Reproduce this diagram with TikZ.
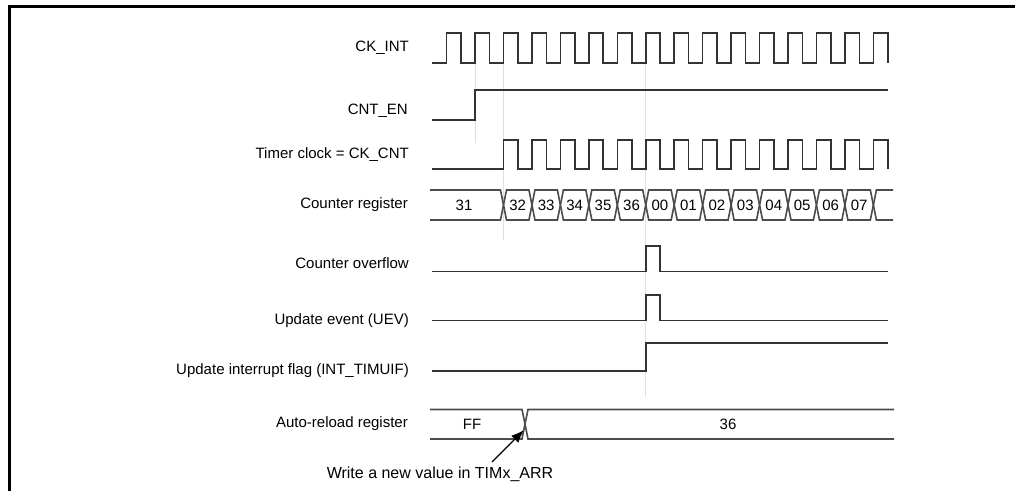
\documentclass[tikz,border=0pt]{standalone}
\usepackage{fontspec}
\setmainfont{Liberation Sans}
\usetikzlibrary{arrows.meta, positioning, calc}
\tikzset{
    lbl/.style = {anchor=east, inner sep=0pt, font=\fontsize{15}{17}\selectfont},
    val/.style = {inner sep=0pt, font=\fontsize{15}{17}\selectfont},
    sig/.style = {draw=black!80, line width=1.6pt, line join=miter},
    bus/.style = {draw=black!70, line width=1.6pt},
    guide/.style = {draw=black!12, line width=0.8pt},
    frame/.style = {draw=black, line width=3pt}
}

\begin{document}
\begin{tikzpicture}[x=1pt, y=-1pt, >=Latex]
    \useasboundingbox (0,0) rectangle (1015,491);
    \draw [frame] (9,491) -- (9,6) -- (1015,6);

    % Guias
    \draw [guide] (475,63) -- (475,143);
    \draw [guide] (503.5,63) -- (503.5,240);
    \draw [guide] (645.8,63) -- (645.8,397);

    % Etiquetas
    \node [lbl] (ckint) at (409,48) {CK\_INT};
    \node [lbl] (cnten) at (408,111) {CNT\_EN};
    \node [lbl] (ckcnt) at (409,155) {Timer clock = CK\_CNT};
    \node [lbl] (cntreg) at (408,205) {Counter register};
    \node [lbl] (ovf) at (409,263) {Counter overflow};
    \node [lbl] (uev) at (409,321) {Update event (UEV)};
    \node [lbl] (uif) at (409,371) {Update interrupt flag (INT\_TIMUIF)};
    \node [lbl] (arr) at (408,424) {Auto-reload register};

    % Relojes
    \draw [sig] (432,63) foreach \k in {0,...,15} {
        -- ({446.6+28.45*\k},63) -- ({446.6+28.45*\k},33)
        -- ({461+28.45*\k},33) -- ({461+28.45*\k},63)};
    \draw [sig] (432,120) -- (475,120) -- (475,90) -- (888,90);
    \draw [sig] (432,169) foreach \k in {2,...,15} {
        -- ({446.6+28.45*\k},169) -- ({446.6+28.45*\k},140)
        -- ({461+28.45*\k},140) -- ({461+28.45*\k},169)};

    % Contador
    \draw [bus] (430,190) -- (500.5,190) -- (503.5,205) -- (500.5,220) -- (430,220);
    \node [val] (cnt1) at (464,205) {31};
    \foreach \v [count=\i from 2] in {32,33,34,35,36,00,01,02,03,04,05,06,07} {
        \pgfmathsetmacro\a{446.6+28.45*\i}
        \pgfmathsetmacro\b{\a+28.45}
        \draw [bus] (\a,205) -- (\a+3,190) -- (\b-3,190) -- (\b,205)
            -- (\b-3,220) -- (\a+3,220) -- cycle;
        \node [val] (cnt\i) at ({(\a+\b)/2},205) {\v};
    }
    \draw [bus] (893,190) -- (876.4,190) -- (873.4,205) -- (876.4,220) -- (893,220);

    % Pulsos
    \draw [sig] (432,271.5) -- (645.8,271.5) -- (645.8,246) -- (660,246) -- (660,271.5) -- (888,271.5);
    \draw [sig] (432,320.5) -- (645.8,320.5) -- (645.8,295) -- (660,295) -- (660,320.5) -- (888,320.5);
    \draw [sig] (432,371) -- (645.8,371) -- (645.8,343) -- (888,343);

    % Auto-reload
    \draw [bus] (430,409.5) -- (522,409.5) -- (525,424) -- (522,439) -- (430,439);
    \draw [bus] (894,409.5) -- (528,409.5) -- (525,424) -- (528,439) -- (894,439);
    \node [val] (ff) at (472,424) {FF};
    \node [val] (v36) at (728,424) {36};

    % Flecha
    \node [val, font=\fontsize{16}{18}\selectfont] (wr) at (440,474) {Write a new value in TIMx\_ARR};
    \coordinate (wtail) at (492,462);
    \coordinate (wtip) at (524,430);
    \draw [-{Latex[length=13pt,width=10pt]}, line width=1.3pt] (wtail) -- (wtip);
\end{tikzpicture}
\end{document}
